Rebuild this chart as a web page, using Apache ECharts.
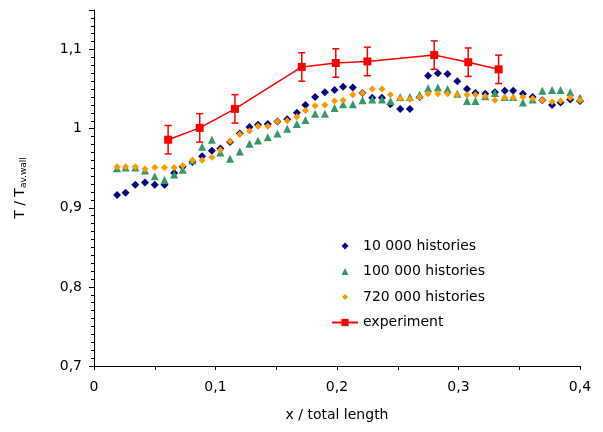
<!DOCTYPE html>
<html>
<head>
<meta charset="utf-8">
<script src="https://cdn.jsdelivr.net/npm/echarts@6/dist/echarts.min.js"></script>
<style>html,body{margin:0;padding:0;background:#fff;}#c{width:603px;height:432px;}</style>
</head>
<body>
<div id="c"></div>
<script>
const xPos = [0.019,0.026,0.034,0.042,0.050,0.058,0.066,0.073,0.081,0.089,
  0.097,0.104,0.112,0.120,0.128,0.135,0.143,0.151,0.159,0.167,
  0.174,0.182,0.190,0.198,0.205,0.213,0.221,0.229,0.237,0.244,
  0.252,0.260,0.268,0.275,0.283,0.291,0.299,0.307,0.314,0.322,
  0.330,0.338,0.345,0.353,0.361,0.369,0.377,0.384,0.392,0.400];
const hist10k = [0.916,0.919,0.929,0.932,0.929,0.929,0.944,0.952,0.958,0.965,
  0.972,0.975,0.983,0.994,1.002,1.005,1.006,1.009,1.012,1.020,
  1.030,1.040,1.046,1.049,1.053,1.052,1.045,1.039,1.039,1.031,
  1.025,1.025,1.040,1.067,1.070,1.069,1.060,1.050,1.045,1.044,
  1.046,1.048,1.048,1.044,1.040,1.036,1.030,1.033,1.037,1.035];
const hist100k = [0.950,0.951,0.951,0.947,0.940,0.935,0.942,0.948,0.960,0.977,
  0.986,0.970,0.962,0.971,0.981,0.985,0.989,0.994,1.000,1.006,
  1.011,1.019,1.019,1.026,1.031,1.031,1.036,1.037,1.037,1.035,
  1.040,1.040,1.043,1.051,1.052,1.050,1.044,1.035,1.035,1.041,
  1.045,1.040,1.040,1.033,1.037,1.048,1.049,1.049,1.046,1.039];
const hist720k = [0.952,0.952,0.952,0.949,0.951,0.951,0.951,0.953,0.960,0.960,
  0.964,0.973,0.984,0.993,0.997,1.003,1.003,1.009,1.010,1.015,
  1.023,1.029,1.030,1.035,1.036,1.043,1.045,1.050,1.050,1.043,
  1.038,1.037,1.040,1.044,1.044,1.044,1.043,1.043,1.043,1.041,
  1.036,1.039,1.039,1.040,1.038,1.036,1.034,1.035,1.039,1.036];
const expX = [0.061,0.087,0.116,0.171,0.199,0.225,0.280,0.308,0.333];
const expY = [0.986,1.001,1.025,1.078,1.083,1.085,1.093,1.084,1.075];
const expErr = [0.018,0.018,0.018,0.018,0.018,0.018,0.018,0.018,0.018];
const seriesNames = ['10 000 histories','100 000 histories','720 000 histories','experiment'];
const xTicks = [0, 0.4, 0.1];
const yTicks = [0.7, 1.15, 0.1];

const fmt = v => {
  const r = Math.round(v * 100) / 100;
  return String(r).replace('.', ',');
};

// legend icons: small symbols centred in a 26x9 box (invisible corner points fix the box)
const BOX = 'M0 0L0 0M26 9L26 9';
const legendIcons = [
  'path://' + BOX + 'M13 1L16.5 4.5L13 8L9.5 4.5Z',
  'path://' + BOX + 'M13 1L16.5 8L9.5 8Z',
  'path://' + BOX + 'M13 1.5L16 4.5L13 7.5L10 4.5Z',
  null
];

const chart = echarts.init(document.getElementById('c'), null, {renderer: 'canvas'});
const FONT = 'DejaVu Sans';
chart.setOption({
  backgroundColor: '#ffffff',
  animation: false,
  textStyle: {fontFamily: FONT, color: '#000'},
  grid: {left: 94, right: 23, top: 10, bottom: 66},
  legend: {
    orient: 'vertical',
    left: 326, top: 234,
    itemWidth: 26, itemHeight: 9, itemGap: 11.5,
    data: seriesNames.map((n, i) => legendIcons[i] ? {name: n, icon: legendIcons[i]} : {name: n}),
    textStyle: {fontFamily: FONT, fontSize: 14, color: '#000'}
  },
  xAxis: {
    type: 'value', min: xTicks[0], max: xTicks[1], interval: xTicks[2],
    name: 'x / total length', nameLocation: 'middle', nameGap: 42,
    nameTextStyle: {fontFamily: FONT, fontSize: 14, color: '#000'},
    axisLine: {show: true, lineStyle: {color: '#000', width: 1}},
    axisTick: {show: true, inside: false, length: 4, lineStyle: {color: '#000'}},
    minorTick: {show: true, splitNumber: 2, length: 4, lineStyle: {color: '#000'}},
    splitLine: {show: false},
    axisLabel: {fontFamily: FONT, fontSize: 14, color: '#000', margin: 14, formatter: fmt}
  },
  yAxis: {
    type: 'value', min: yTicks[0], max: yTicks[1], interval: yTicks[2],
    name: 'T / T{s|av.wall}', nameLocation: 'middle', nameGap: 66, nameRotate: 90,
    nameTextStyle: {fontFamily: FONT, fontSize: 14, color: '#000',
      rich: {s: {fontFamily: FONT, fontSize: 9, color: '#000', verticalAlign: 'bottom', padding: [6, 0, 0, 0]}}},
    axisLine: {show: true, lineStyle: {color: '#000', width: 1}},
    axisTick: {show: true, inside: false, length: 5, lineStyle: {color: '#000'}},
    minorTick: {show: true, splitNumber: 10, length: 3, lineStyle: {color: '#000'}},
    splitLine: {show: false},
    axisLabel: {fontFamily: FONT, fontSize: 14, color: '#000', margin: 12, formatter: fmt, showMaxLabel: false}
  },
  series: [
    {
      name: seriesNames[0], type: 'scatter', symbol: 'diamond', symbolSize: 8,
      itemStyle: {color: '#000080', opacity: 1}, z: 2,
      data: xPos.map((x, i) => [x, hist10k[i]])
    },
    {
      name: seriesNames[1], type: 'scatter', symbol: 'triangle', symbolSize: 8,
      itemStyle: {color: '#339966', opacity: 1}, z: 3,
      data: xPos.map((x, i) => [x, hist100k[i]])
    },
    {
      name: seriesNames[2], type: 'scatter', symbol: 'diamond', symbolSize: 7,
      itemStyle: {color: '#FF9900', opacity: 1}, z: 4,
      data: xPos.map((x, i) => [x, hist720k[i]])
    },
    {
      name: seriesNames[3], type: 'line', symbol: 'rect', symbolSize: 8,
      showAllSymbol: true,
      lineStyle: {color: '#FF0000', width: 1.5},
      itemStyle: {color: '#FF0000'}, z: 6,
      data: expX.map((x, i) => [x, expY[i]])
    },
    {
      name: 'errors', type: 'custom', z: 5,
      encode: {x: 0, y: 1},
      data: expX.map((x, i) => [x, expY[i], expErr[i]]),
      renderItem: function (params, api) {
        const x = api.value(0), y = api.value(1), e = api.value(2);
        const t = api.coord([x, y + e]);
        const b = api.coord([x, y - e]);
        const hw = 3.5;
        const st = {stroke: '#FF0000', lineWidth: 1.5};
        return {
          type: 'group',
          children: [
            {type: 'line', shape: {x1: t[0], y1: t[1], x2: b[0], y2: b[1]}, style: st},
            {type: 'line', shape: {x1: t[0] - hw, y1: t[1], x2: t[0] + hw, y2: t[1]}, style: st},
            {type: 'line', shape: {x1: b[0] - hw, y1: b[1], x2: b[0] + hw, y2: b[1]}, style: st}
          ]
        };
      }
    }
  ]
});
</script>
</body>
</html>
